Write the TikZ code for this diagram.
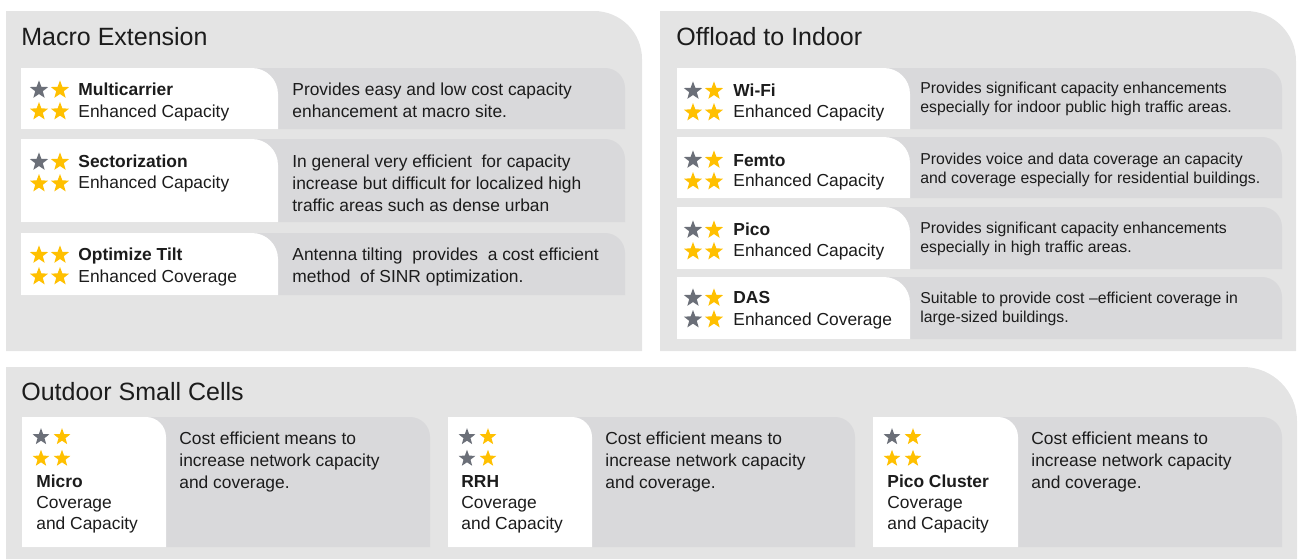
\documentclass[tikz,border=0pt]{standalone}
\usepackage{fontspec}
\setmainfont{Liberation Sans}
\usetikzlibrary{shapes.geometric}
\definecolor{panelgray}{RGB}{228,228,228}
\definecolor{cardgray}{RGB}{217,217,219}
\definecolor{stargray}{RGB}{107,111,120}
\definecolor{staryellow}{RGB}{255,192,0}
\definecolor{textblack}{RGB}{28,28,28}

% filled block, only the top right corner is rounded
% #1 colour, #2 left, #3 top, #4 right, #5 bottom, #6 radius
\newcommand{\roundtr}[6]{%
  \fill[#1] (#2,#5) -- (#2,#3) -- ([xshift=-#6]#4,#3)
    arc[start angle=90, end angle=0, radius=#6] -- (#4,#5) -- cycle;}

% white label part on a grey text card
% #1 radius of the white part, #2 left, #3 split, #4 right, #5 top, #6 bottom
\newcommand{\optioncard}[6][13pt]{%
  \roundtr{cardgray}{#2}{#5}{#4}{#6}{10pt}
  \roundtr{white}{#2}{#5}{#3}{#6}{#1}}

% 2x2 rating stars
% #1 style, #2 name, #3 x, #4 y, #5..#8 colours
\newcommand{\ratingstars}[8][ratestar]{%
  \node[#1, fill=#5] (#2-a) at (#3,#4) {};
  \node[#1, fill=#6] (#2-b) at ([xshift=10.5pt]#3,#4) {};
  \node[#1, fill=#7] (#2-c) at ([yshift=-10.8pt]#3,#4) {};
  \node[#1, fill=#8] (#2-d) at ([xshift=10.5pt,yshift=-10.8pt]#3,#4) {};}

\begin{document}
\begin{tikzpicture}[x=0.5pt, y=-0.5pt,
    ratestar/.style={star, star points=5, star point ratio=2.4, minimum size=9.6pt, inner sep=0pt},
    smallstar/.style={ratestar, minimum size=8.8pt},
    heading/.style={anchor=base west, inner sep=0pt, text=textblack, font=\fontsize{12.5}{15}\selectfont},
    optname/.style={anchor=base west, inner sep=0pt, text=textblack, font=\bfseries\fontsize{8.7}{11}\selectfont},
    optsub/.style={anchor=base west, inner sep=0pt, align=left, text=textblack, font=\fontsize{8.7}{10.5}\selectfont},
    optdesc/.style={anchor=base west, inner sep=0pt, align=left, text=textblack, font=\fontsize{8.7}{11}\selectfont},
    indoordesc/.style={optdesc, font=\fontsize{7.9}{9.5}\selectfont}]
    \useasboundingbox (0,0) rectangle (1298,559);

    % Panels
    \roundtr{panelgray}{6}{11}{642}{351}{24pt}
    \roundtr{panelgray}{660}{11}{1296}{351}{25pt}
    \roundtr{panelgray}{6}{367}{1297}{559}{27pt}

    % Macro Extension (multi-line texts sit on their last baseline)
    \node[heading] (macro) at (21,45) {Macro Extension};
    \optioncard{21}{278}{625}{68}{129}
    \optioncard{21}{278}{625}{139}{222}
    \optioncard{21}{278}{625}{233}{295}

    \ratingstars{multicarrier-stars}{39}{90}{stargray}{staryellow}{staryellow}{staryellow}
    \node[optname] (multicarrier) at (78,95) {Multicarrier};
    \node[optsub] (multicarrier-sub) at (78,117) {Enhanced Capacity};
    \node[optdesc] (multicarrier-desc) at (292,117) {Provides easy and low cost capacity\\enhancement at macro site.};

    \ratingstars{sector-stars}{39}{162}{stargray}{staryellow}{staryellow}{staryellow}
    \node[optname] (sector) at (78,167) {Sectorization};
    \node[optsub] (sector-sub) at (78,188) {Enhanced Capacity};
    \node[optdesc] (sector-desc) at (292,211) {In general very efficient \ for capacity\\increase but difficult for localized high\\traffic areas such as dense urban};

    \ratingstars{tilt-stars}{39}{255}{staryellow}{staryellow}{staryellow}{staryellow}
    \node[optname] (tilt) at (78,260) {Optimize Tilt};
    \node[optsub] (tilt-sub) at (78,282) {Enhanced Coverage};
    \node[optdesc] (tilt-desc) at (292,282) {Antenna tilting \ provides \ a cost efficient\\method \ of SINR optimization.};

    % Offload to Indoor
    \node[heading] (indoor) at (676,45) {Offload to Indoor};
    \optioncard{677}{910}{1282}{68}{129}
    \optioncard{677}{910}{1282}{137}{198}
    \optioncard{677}{910}{1282}{207}{269}
    \optioncard{677}{910}{1282}{277}{339}

    \ratingstars{wifi-stars}{693}{91}{stargray}{staryellow}{staryellow}{staryellow}
    \node[optname] (wifi) at (733,96) {Wi-Fi};
    \node[optsub] (wifi-sub) at (733,117) {Enhanced Capacity};
    \node[indoordesc] (wifi-desc) at (920,112) {Provides significant capacity enhancements\\especially for indoor public high traffic areas.};

    \ratingstars{femto-stars}{693}{160}{stargray}{staryellow}{staryellow}{staryellow}
    \node[optname] (femto) at (733,166) {Femto};
    \node[optsub] (femto-sub) at (733,186) {Enhanced Capacity};
    \node[indoordesc] (femto-desc) at (920,183) {Provides voice and data coverage an capacity\\and coverage especially for residential buildings.};

    \ratingstars{pico-stars}{693}{230}{stargray}{staryellow}{staryellow}{staryellow}
    \node[optname] (pico) at (733,235) {Pico};
    \node[optsub] (pico-sub) at (733,256) {Enhanced Capacity};
    \node[indoordesc] (pico-desc) at (920,252) {Provides significant capacity enhancements\\especially in high traffic areas.};

    \ratingstars{das-stars}{693}{298}{stargray}{staryellow}{stargray}{staryellow}
    \node[optname] (das) at (733,303) {DAS};
    \node[optsub] (das-sub) at (733,325) {Enhanced Coverage};
    \node[indoordesc] (das-desc) at (920,322) {Suitable to provide cost --efficient coverage in\\large-sized buildings.};

    % Outdoor Small Cells
    \node[heading] (outdoor) at (21,400) {Outdoor Small Cells};
    \optioncard[10pt]{22}{166}{430}{417}{547}
    \optioncard[10pt]{448}{592}{855}{417}{547}
    \optioncard[10pt]{873}{1018}{1282}{417}{547}

    \ratingstars[smallstar]{micro-stars}{41}{437}{stargray}{staryellow}{staryellow}{staryellow}
    \node[optname] (micro) at (36,487) {Micro};
    \node[optsub] (micro-sub) at (36,529) {Coverage\\and Capacity};
    \node[optdesc] (micro-desc) at (179,488) {Cost efficient means to\\increase network capacity\\and coverage.};

    \ratingstars[smallstar]{rrh-stars}{467}{437}{stargray}{staryellow}{stargray}{staryellow}
    \node[optname] (rrh) at (461,487) {RRH};
    \node[optsub] (rrh-sub) at (461,529) {Coverage\\and Capacity};
    \node[optdesc] (rrh-desc) at (605,488) {Cost efficient means to\\increase network capacity\\and coverage.};

    \ratingstars[smallstar]{cluster-stars}{892}{437}{stargray}{staryellow}{staryellow}{staryellow}
    \node[optname] (cluster) at (887,487) {Pico Cluster};
    \node[optsub] (cluster-sub) at (887,529) {Coverage\\and Capacity};
    \node[optdesc] (cluster-desc) at (1031,488) {Cost efficient means to\\increase network capacity\\and coverage.};
\end{tikzpicture}
\end{document}
